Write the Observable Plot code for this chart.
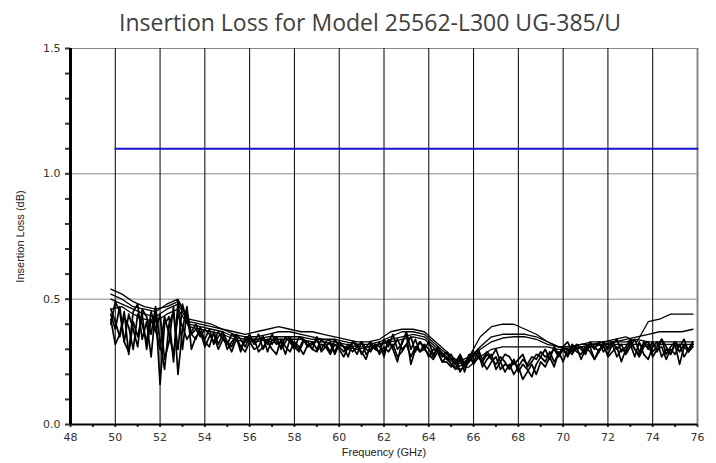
<!DOCTYPE html>
<html>
<head>
<meta charset="utf-8">
<script src="https://cdn.jsdelivr.net/npm/d3@7"></script>
<script src="https://cdn.jsdelivr.net/npm/@observablehq/plot@0.6"></script>
<style>
  body { margin: 0; background: #fff; }
  #title { width: 716px; box-sizing: border-box; padding-left: 24px; height: 40px; line-height: 45px;
           text-align: center; font-family: "Open Sans", sans-serif; font-size: 23px; color: #404040; }
  svg { display: block; }
</style>
</head>
<body>
<div id="title"></div>
<div id="chart"></div>
<script>
const titleText = "Insertion Loss for Model 25562-L300 UG-385/U";
const xLabel = "Frequency (GHz)";
const yLabel = "Insertion Loss (dB)";
const xTickLabels = [48, 50, 52, 54, 56, 58, 60, 62, 64, 66, 68, 70, 72, 74, 76];
const yTickLabels = [0.0, 0.5, 1.0, 1.5];
const limitFreq = [50, 76];
const limitValue = 1.1;

// smooth traces sampled every 0.5 GHz from 49.8 to 75.8
const freqSmooth = d3.range(53).map(i => +(49.8 + 0.5 * i).toFixed(1));
const traceA = [0.54,0.52,0.49,0.47,0.46,0.47,0.49,0.42,0.41,0.40,0.38,0.37,0.36,0.37,0.38,0.39,0.38,0.37,0.37,0.36,0.35,0.34,0.33,0.33,0.34,0.37,0.38,0.38,0.37,0.33,0.29,0.25,0.27,0.35,0.39,0.40,0.40,0.38,0.36,0.33,0.31,0.31,0.32,0.33,0.33,0.34,0.35,0.33,0.41,0.42,0.44,0.44,0.44];
const traceB = [0.52,0.50,0.47,0.46,0.45,0.48,0.50,0.41,0.40,0.39,0.38,0.36,0.35,0.35,0.36,0.37,0.37,0.36,0.35,0.34,0.34,0.33,0.32,0.32,0.33,0.35,0.37,0.37,0.36,0.32,0.28,0.24,0.26,0.31,0.35,0.36,0.36,0.36,0.35,0.33,0.31,0.31,0.32,0.32,0.33,0.33,0.34,0.35,0.36,0.37,0.37,0.37,0.38];
const traceC = [0.50,0.48,0.46,0.44,0.43,0.46,0.48,0.40,0.39,0.38,0.37,0.35,0.34,0.34,0.35,0.35,0.35,0.35,0.34,0.34,0.33,0.32,0.31,0.31,0.32,0.34,0.35,0.36,0.35,0.31,0.27,0.23,0.25,0.30,0.33,0.345,0.35,0.35,0.34,0.32,0.31,0.30,0.31,0.32,0.32,0.33,0.33,0.34,0.33,0.33,0.33,0.33,0.33];
const traceD = [0.46,0.47,0.44,0.42,0.41,0.44,0.46,0.39,0.38,0.37,0.36,0.34,0.33,0.33,0.34,0.34,0.34,0.34,0.33,0.33,0.32,0.31,0.30,0.31,0.32,0.33,0.34,0.35,0.34,0.30,0.26,0.22,0.23,0.27,0.30,0.31,0.31,0.31,0.31,0.31,0.30,0.30,0.31,0.31,0.32,0.32,0.32,0.32,0.31,0.32,0.32,0.32,0.32];

// noisy traces sampled every 0.2 GHz from 49.8 to 75.8
const freqNoisy = d3.range(131).map(i => +(49.8 + 0.2 * i).toFixed(1));
const noisy1 = [0.44,0.38,0.47,0.33,0.29, 0.45,0.48,0.34,0.41,0.27, 0.46,0.16,0.40,0.43,0.25, 0.49,0.30,0.45,0.36,0.34,
  0.39,0.33,0.31,0.37,0.32, 0.36,0.30,0.33,0.35,0.29, 0.35,0.33,0.30,0.31,0.35, 0.29,0.34,0.32,0.33,0.28,
  0.34,0.31,0.29,0.33,0.33, 0.30,0.35,0.29,0.31,0.33, 0.28,0.32,0.31,0.27,0.33, 0.31,0.29,0.26,0.32,0.30,
  0.33,0.27,0.34,0.30,0.25, 0.33,0.36,0.24,0.30,0.33, 0.31,0.27,0.30,0.29,0.25, 0.27,0.24,0.22,0.26,0.21,
  0.27,0.25,0.29,0.23,0.26, 0.28,0.22,0.25,0.21,0.24, 0.20,0.23,0.18,0.21,0.24, 0.20,0.25,0.23,0.27,0.23,
  0.29,0.25,0.30,0.28,0.31, 0.26,0.30,0.31,0.26,0.29, 0.32,0.27,0.29,0.31,0.25, 0.30,0.32,0.27,0.33,0.28,
  0.26,0.31,0.33,0.27,0.30, 0.28,0.32,0.24,0.31,0.29, 0.32];
const noisy2 = [0.40,0.49,0.45,0.33,0.44, 0.38,0.31,0.46,0.43,0.36, 0.47,0.33,0.22,0.40,0.45, 0.30,0.48,0.41,0.36,0.38,
  0.35,0.38,0.36,0.33,0.37, 0.34,0.32,0.36,0.35,0.31, 0.33,0.36,0.32,0.34,0.35, 0.32,0.36,0.33,0.31,0.35,
  0.33,0.30,0.35,0.34,0.31, 0.32,0.34,0.30,0.33,0.32, 0.29,0.33,0.31,0.30,0.33, 0.32,0.28,0.31,0.33,0.30,
  0.29,0.34,0.31,0.36,0.30, 0.32,0.37,0.30,0.34,0.29, 0.32,0.30,0.27,0.31,0.28, 0.26,0.28,0.24,0.27,0.23,
  0.25,0.28,0.30,0.26,0.29, 0.27,0.30,0.25,0.28,0.27, 0.24,0.26,0.28,0.23,0.25, 0.28,0.27,0.30,0.26,0.31,
  0.28,0.31,0.33,0.29,0.32, 0.30,0.28,0.33,0.31,0.29, 0.33,0.30,0.32,0.34,0.29, 0.31,0.34,0.30,0.28,0.33,
  0.30,0.33,0.29,0.34,0.31, 0.28,0.33,0.31,0.34,0.29, 0.31];
const noisy3 = [0.42,0.32,0.36,0.45,0.28, 0.41,0.35,0.44,0.30,0.42, 0.37,0.44,0.26,0.33,0.47, 0.20,0.38,0.47,0.30,0.35,
  0.37,0.31,0.35,0.36,0.30, 0.34,0.33,0.29,0.34,0.31, 0.29,0.33,0.34,0.29,0.31, 0.33,0.30,0.28,0.34,0.31,
  0.29,0.33,0.31,0.28,0.32, 0.30,0.29,0.32,0.31,0.28, 0.32,0.30,0.27,0.31,0.29, 0.31,0.33,0.28,0.30,0.32,
  0.28,0.31,0.29,0.32,0.27, 0.29,0.32,0.27,0.31,0.29, 0.30,0.28,0.26,0.29,0.25, 0.25,0.23,0.26,0.21,0.24,
  0.28,0.24,0.27,0.25,0.22, 0.25,0.27,0.22,0.24,0.23, 0.26,0.21,0.24,0.22,0.19, 0.24,0.27,0.25,0.29,0.25,
  0.28,0.30,0.27,0.31,0.29, 0.28,0.31,0.29,0.26,0.30, 0.31,0.28,0.32,0.27,0.30, 0.29,0.33,0.30,0.27,0.31,
  0.32,0.27,0.30,0.31,0.26, 0.30,0.28,0.32,0.27,0.30, 0.32];
const noisy4 = [0.46,0.41,0.35,0.43,0.39, 0.30,0.44,0.40,0.33,0.45, 0.38,0.30,0.43,0.36,0.28, 0.44,0.39,0.34,0.37,0.40,
  0.36,0.34,0.38,0.32,0.35, 0.37,0.33,0.31,0.36,0.34, 0.31,0.35,0.33,0.36,0.30, 0.34,0.32,0.35,0.30,0.33,
  0.35,0.32,0.30,0.34,0.31, 0.33,0.30,0.34,0.32,0.29, 0.34,0.31,0.29,0.32,0.31, 0.28,0.33,0.30,0.29,0.32,
  0.31,0.29,0.33,0.31,0.34, 0.30,0.32,0.35,0.29,0.33, 0.30,0.33,0.28,0.30,0.27, 0.29,0.26,0.25,0.28,0.24,
  0.26,0.29,0.27,0.25,0.28, 0.26,0.24,0.27,0.25,0.22, 0.25,0.23,0.26,0.24,0.27, 0.26,0.29,0.27,0.28,0.30,
  0.27,0.30,0.28,0.32,0.30, 0.31,0.29,0.32,0.30,0.33, 0.29,0.31,0.33,0.30,0.32, 0.28,0.31,0.34,0.29,0.32,
  0.33,0.29,0.31,0.34,0.28, 0.31,0.33,0.29,0.32,0.30, 0.33];

const smoothSeries = {A: traceA, B: traceB, C: traceC, D: traceD};
const noisySeries = {N1: noisy1, N2: noisy2, N3: noisy3, N4: noisy4};
const smoothData = Object.entries(smoothSeries).flatMap(([s, vals]) => vals.map((v, i) => ({f: freqSmooth[i], v, s})));
const noisyData = Object.entries(noisySeries).flatMap(([s, vals]) => vals.map((v, i) => ({f: freqNoisy[i], v, s})));
const limitData = limitFreq.map(f => ({f, v: limitValue}));

document.getElementById("title").textContent = titleText;

const tickFont = "DejaVu Sans, sans-serif";
const chart = Plot.plot({
  width: 716,
  height: 423,
  marginLeft: 70,
  marginRight: 19,
  marginTop: 8,
  marginBottom: 39,
  x: {domain: [48, 76]},
  y: {domain: [0, 1.5]},
  style: {fontFamily: tickFont, fontSize: "11px", color: "#333", background: "#fff", overflow: "visible"},
  marks: [
    Plot.ruleY([0.5, 1.0, 1.5], {stroke: "#888", strokeWidth: 1}),
    Plot.ruleX(xTickLabels.filter(d => d > 48 && d < 76), {stroke: "#000", strokeWidth: 1}),
    Plot.ruleX([76], {stroke: "#888", strokeWidth: 2}),
    Plot.line(smoothData, {x: "f", y: "v", z: "s", stroke: "#000", strokeWidth: 1.3}),
    Plot.line(noisyData, {x: "f", y: "v", z: "s", stroke: "#000", strokeWidth: 1.7}),
    Plot.line(limitData, {x: "f", y: "v", stroke: "#1515d0", strokeWidth: 2}),
    Plot.axisY({ticks: d3.range(0, 16).map(i => i / 10), tickSize: 5, tickPadding: 5, strokeWidth: 2,
      tickFormat: d => yTickLabels.some(t => Math.abs(t - d) < 1e-9) ? d.toFixed(1) : "", label: null, fill: "#333"}),
    Plot.axisX({ticks: d3.range(48, 77), tickSize: 3, tickPadding: 6, strokeWidth: 2,
      tickFormat: d => xTickLabels.includes(d) ? String(d) : "", label: null, fill: "#333"}),
    Plot.ruleX([48], {stroke: "#000", strokeWidth: 3}),
    Plot.ruleY([0], {stroke: "#000", strokeWidth: 2}),
    Plot.text([yLabel], {frameAnchor: "left", dx: -50, rotate: -90, text: d => d, textAnchor: "middle",
      fontFamily: "Liberation Sans Narrow, Liberation Sans, sans-serif", fontSize: 11, fill: "#222"}),
    Plot.text([xLabel], {frameAnchor: "bottom", dy: 31, text: d => d, textAnchor: "middle",
      fontFamily: "Liberation Sans, Arial, sans-serif", fontSize: 11, fill: "#222"})
  ]
});
document.getElementById("chart").appendChild(chart);
</script>
</body>
</html>
